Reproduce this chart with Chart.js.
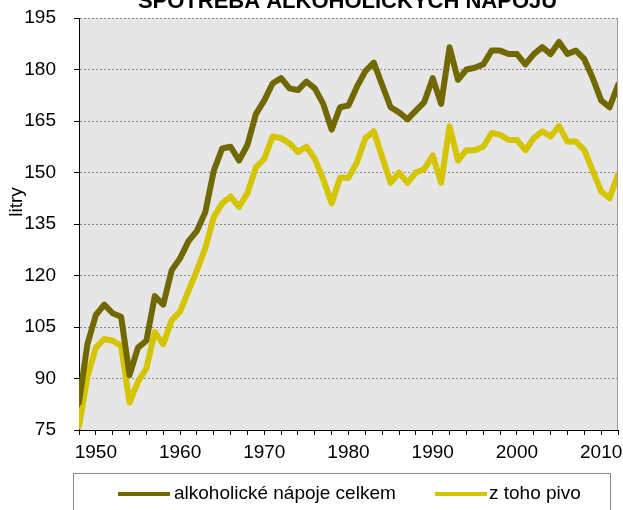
<!DOCTYPE html>
<html>
<head>
<meta charset="utf-8">
<script src="https://cdn.jsdelivr.net/npm/chart.js@4"></script>
<style>
  html, body { margin: 0; padding: 0; background: #fff; }
  #wrap { width: 623px; height: 510px; }
</style>
</head>
<body>
<div id="wrap"><canvas id="myChart" width="623" height="510"></canvas></div>
<script>
'use strict';

const titulek = 'SPOTŘEBA ALKOHOLICKÝCH NÁPOJŮ';
const osaY = 'litry';

const roky = [
	1948, 1949, 1950, 1951, 1952, 1953, 1954, 1955, 1956, 1957,
	1958, 1959, 1960, 1961, 1962, 1963, 1964, 1965, 1966, 1967,
	1968, 1969, 1970, 1971, 1972, 1973, 1974, 1975, 1976, 1977,
	1978, 1979, 1980, 1981, 1982, 1983, 1984, 1985, 1986, 1987,
	1988, 1989, 1990, 1991, 1992, 1993, 1994, 1995, 1996, 1997,
	1998, 1999, 2000, 2001, 2002, 2003, 2004, 2005, 2006, 2007,
	2008, 2009, 2010, 2011, 2012
];

const celkem = [
	83, 100, 108.5, 111.5, 109, 108, 91, 99, 101, 114,
	111.5, 121.5, 125, 130, 133, 138.5, 150.5, 157, 157.5, 153.5,
	158, 167, 171, 176, 177.5, 174.5, 174, 176.5, 174.5, 170,
	162.5, 169, 169.5, 175, 179.5, 182, 175.5, 169, 167.5, 165.5,
	168, 170.5, 177.5, 170, 186.5, 177, 180, 180.5, 181.5, 185.5,
	185.5, 184.5, 184.5, 181.5, 184.5, 186.5, 184.5, 188, 184.5, 185.5,
	183, 177.5, 171, 169, 175.5
];

const pivo = [
	76, 90.5, 99, 101.5, 101, 99.5, 83, 89, 93, 103.5,
	100, 107, 109.5, 115.5, 121.5, 128, 137, 141, 143, 140,
	144, 151.5, 154, 160.5, 160, 158.5, 156, 157.5, 154, 148,
	141, 148.5, 148.5, 153, 160, 162, 154.5, 147, 150, 147,
	150, 151, 155, 147, 163.5, 153.5, 156.5, 156.5, 157.5, 161.5,
	161, 159.5, 159.5, 156.5, 160, 162, 160.5, 163.5, 159, 159,
	156.5, 150.5, 144.5, 142.5, 149.5
];

const nazvy = ['alkoholické nápoje celkem', 'z toho pivo'];
const barvy = ['#716800', '#d4c500'];

const pismo = "'Liberation Sans', Arial, sans-serif";
Chart.defaults.font.family = pismo;
Chart.defaults.font.size = 19;
Chart.defaults.color = '#000';

function body(hodnoty) {
	return roky.map((r, i) => ({ x: r, y: hodnoty[i] }));
}

// pozadi, ramecek, nadpis, popisek osy a legenda s ramem
const doplnky = {
	id: 'doplnky',
	beforeDraw(chart) {
		const { ctx, chartArea: a } = chart;
		ctx.save();
		ctx.fillStyle = '#e6e6e6';
		ctx.fillRect(a.left, a.top, a.right - a.left, a.bottom - a.top);
		ctx.restore();
	},
	afterDraw(chart) {
		const { ctx, chartArea: a } = chart;
		ctx.save();
		ctx.strokeStyle = '#9a9a9a';
		ctx.lineWidth = 1;
		ctx.beginPath();
		ctx.moveTo(a.right - 0.5, a.top);
		ctx.lineTo(a.right - 0.5, a.bottom);
		ctx.stroke();

		ctx.fillStyle = '#000';
		ctx.font = 'bold 22px ' + pismo;
		ctx.textAlign = 'center';
		ctx.textBaseline = 'alphabetic';
		ctx.fillText(titulek, 347.5, 8);

		ctx.save();
		ctx.translate(17, 202);
		ctx.rotate(-Math.PI / 2);
		ctx.font = '19px ' + pismo;
		ctx.textBaseline = 'middle';
		ctx.fillText(osaY, 0, 0);
		ctx.restore();

		ctx.strokeStyle = '#8c8c8c';
		ctx.strokeRect(73.5, 473.5, 537, 60);

		const polozky = [[118, 170, 174], [435, 487, 489]];
		ctx.font = '19px ' + pismo;
		ctx.textAlign = 'left';
		ctx.textBaseline = 'middle';
		chart.data.datasets.forEach((ds, i) => {
			const [x1, x2, xt] = polozky[i];
			ctx.strokeStyle = ds.borderColor;
			ctx.lineWidth = 4;
			ctx.beginPath();
			ctx.moveTo(x1, 494);
			ctx.lineTo(x2, 494);
			ctx.stroke();
			ctx.fillStyle = '#000';
			ctx.fillText(ds.label, xt, 494);
		});
		ctx.restore();
	}
};

const ctx = document.getElementById('myChart');

new Chart(ctx, {
	type: 'line',
	data: {
		datasets: [{
			label: nazvy[0],
			data: body(celkem),
			borderColor: barvy[0],
			borderWidth: 6,
			pointRadius: 0,
			borderJoinStyle: 'round',
			borderCapStyle: 'round',
			clip: 0,
		}, {
			label: nazvy[1],
			data: body(pivo),
			borderColor: barvy[1],
			borderWidth: 6,
			pointRadius: 0,
			borderJoinStyle: 'round',
			borderCapStyle: 'round',
			clip: 0,
		}]
	},
	options: {
		responsive: false,
		animation: false,
		layout: { padding: { top: 18, right: 5, bottom: 0, left: 0 } },
		plugins: {
			legend: { display: false },
			title: { display: false },
			tooltip: { enabled: false },
		},
		scales: {
			x: {
				type: 'linear',
				min: 1948,
				max: 2012,
				afterFit(scale) {
					scale.height = 80;
					scale.paddingLeft = 0;
					scale.paddingRight = 0;
				},
				ticks: {
					stepSize: 2,
					autoSkip: false,
					maxRotation: 0,
					padding: 6,
					callback: (v) => (v % 10 === 0 ? String(v) : ''),
				},
				grid: {
					drawOnChartArea: false,
					tickLength: 5,
					tickColor: '#000',
				},
				border: { color: '#000', width: 1 },
			},
			y: {
				min: 75,
				max: 195,
				afterFit(scale) {
					scale.width = 79;
					scale.paddingTop = 0;
					scale.paddingBottom = 0;
				},
				ticks: { stepSize: 15, padding: 18 },
				grid: {
					color: '#8a8a8a',
					lineWidth: 1,
					tickLength: 5,
					tickColor: '#000',
					tickBorderDash: [],
				},
				border: { color: '#000', width: 1, dash: [2, 2] },
			}
		}
	},
	plugins: [doplnky]
});
</script>
</body>
</html>
